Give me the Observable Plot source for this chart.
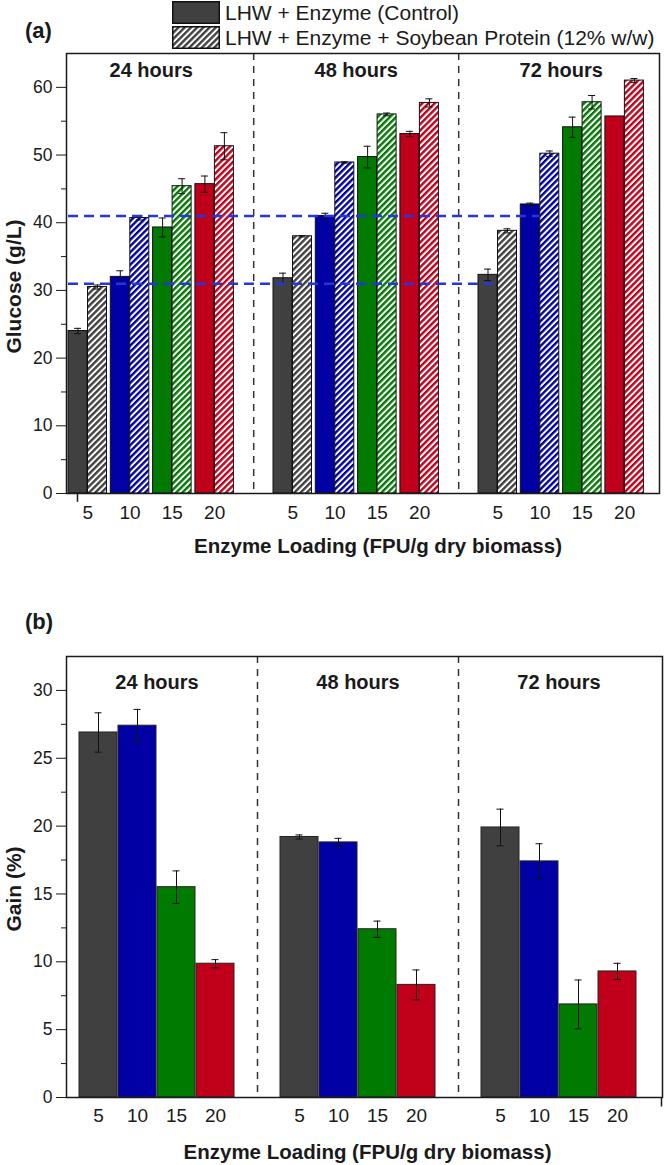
<!DOCTYPE html>
<html>
<head>
<meta charset="utf-8">
<script src="https://cdn.jsdelivr.net/npm/d3@7"></script>
<script src="https://cdn.jsdelivr.net/npm/@observablehq/plot@0.6"></script>
<style>
  html, body { margin: 0; padding: 0; background: white; }
  #wrap { position: relative; width: 664px; height: 1165px; overflow: hidden; font-family: "Liberation Sans", Arial, sans-serif; color: #1a1a1a; }
  .abs { position: absolute; }
  .panel-tag { font-weight: bold; font-size: 22px; line-height: 1; z-index: 5; }
  .leg-row { position: absolute; left: 172px; display: flex; align-items: center; height: 23px; z-index: 5; }
  .leg-row span { font-size: 21px; margin-left: 5px; white-space: nowrap; line-height: 1; }
  svg { display: block; }
</style>
</head>
<body>
<div id="wrap">
  <div id="pa" class="abs" style="left:0; top:51px;"></div>
  <div id="pb" class="abs" style="left:0; top:571px;"></div>
  <div class="abs panel-tag" style="left:25px; top:20px;">(a)</div>
  <div class="abs panel-tag" style="left:25px; top:611px;">(b)</div>
  <div id="legend"></div>
</div>
<script>
// ---------------- data ----------------
const times = ["24 hours", "48 hours", "72 hours"];
const loadings = [5, 10, 15, 20];
const seriesNames = ["LHW + Enzyme (Control)", "LHW + Enzyme + Soybean Protein (12% w/w)"];
const loadingColors = ["#404040", "#0000a4", "#007a00", "#c0001a"];

// Glucose (g/L): rows = times, columns = loadings
const controlGlucose    = [[24.0, 32.0, 39.3, 45.7], [31.8, 41.0, 49.7, 53.1], [32.3, 42.7, 54.1, 55.7]];
const controlGlucoseErr = [[0.4, 0.9, 1.4, 1.2],     [0.75, 0.4, 1.6, 0.4],    [0.85, 0.2, 1.5, 0]];
const soyGlucose        = [[30.5, 40.7, 45.4, 51.3], [38.0, 48.9, 56.0, 57.7], [38.8, 50.2, 57.8, 61.0]];
const soyGlucoseErr     = [[0.3, 0.3, 1.1, 2.0],     [0.1, 0.1, 0.2, 0.6],     [0.3, 0.4, 1.0, 0.3]];

// Gain (%)
const gain    = [[26.9, 27.4, 15.5, 9.86], [19.2, 18.8, 12.4, 8.3], [19.9, 17.4, 6.86, 9.29]];
const gainErr = [[1.45, 1.2, 1.2, 0.3],    [0.15, 0.3, 0.6, 1.1],   [1.35, 1.3, 1.8, 0.6]];

// Blue dashed reference levels (g/L) and the loading index where each ends in the last group
const refLevels = [41.0, 31.0];
const refEndLoading = [1, 0];

const glucoseTicks = [0, 10, 20, 30, 40, 50, 60];
const gainTicks = [0, 5, 10, 15, 20, 25, 30];
const xTitle = "Enzyme Loading (FPU/g dry biomass)";
const yTitleA = "Glucose (g/L)";
const yTitleB = "Gain (%)";

// ---------------- layout (in x-scale units) ----------------
const font = "'Liberation Sans', Arial, sans-serif";
const LA = {start: 2, group: 205, pair: 42.3, off: 19.5, bw: 19};
const LB = {start: 13, group: 201, step: 39, bw: 38};
const centered = {textAnchor: "middle", lineAnchor: "middle"};

// ---------------- panel (a) ----------------
const rowsA = [];
times.forEach((t, g) => loadings.forEach((l, i) => {
  [[controlGlucose, controlGlucoseErr], [soyGlucose, soyGlucoseErr]].forEach(([v, e], s) => {
    const x1 = LA.start + g * LA.group + i * LA.pair + s * LA.off;
    rowsA.push({time: t, loading: l, g, i, s, value: v[g][i], err: e[g][i], x1, x2: x1 + LA.bw, cx: x1 + LA.bw / 2,
      fill: s ? `url(#hatch-${i})` : loadingColors[i]});
  });
}));
const errA = rowsA.filter(d => d.err > 0);
const capsA = errA.flatMap(d => [{cx: d.cx, y: d.value + d.err}, {cx: d.cx, y: d.value - d.err}]);
const groupCenterA = g => LA.start + g * LA.group + (3 * LA.pair + LA.off + LA.bw) / 2;
const sepA = [0, 1].map(g => (LA.start + g * LA.group + 3 * LA.pair + LA.off + LA.bw + LA.start + (g + 1) * LA.group) / 2);
const xLabA = times.flatMap((t, g) => loadings.map((l, i) => ({l, x: LA.start + g * LA.group + i * LA.pair + (LA.off + LA.bw) / 2})));
const refRows = refLevels.map((y, k) => ({y, x1: LA.start, x2: LA.start + 2 * LA.group + refEndLoading[k] * LA.pair + LA.bw}));

const plotA = Plot.plot({
  width: 664, height: 520,
  marginTop: 2, marginBottom: 78, marginLeft: 66, marginRight: 5,
  x: {domain: [0, 593], axis: null},
  y: {domain: [0, 65], axis: null},
  color: {type: "identity"},
  style: {fontFamily: font, background: "transparent", overflow: "visible", color: "#1a1a1a"},
  marks: [
    Plot.rectY(rowsA, {x1: "x1", x2: "x2", y1: 0, y2: "value", fill: "fill", stroke: "#111", strokeWidth: 1}),
    Plot.ruleX(errA, {x: "cx", y1: d => d.value - d.err, y2: d => d.value + d.err, stroke: "#111", strokeWidth: 1}),
    Plot.ruleY(capsA, {y: "y", x1: d => d.cx - 3.5, x2: d => d.cx + 3.5, stroke: "#111", strokeWidth: 1}),
    Plot.ruleX(sepA, {x: d => d, stroke: "#333", strokeWidth: 1.5, strokeDasharray: "7,6"}),
    Plot.ruleY(refRows, {y: "y", x1: "x1", x2: "x2", stroke: "#2436dc", strokeWidth: 2.5, strokeDasharray: "10,6"}),
    Plot.frame({stroke: "#1a1a1a", strokeWidth: 1.5}),
    Plot.axisY({ticks: glucoseTicks, tickSize: 10, tickPadding: 4, fontSize: 17.5, label: null}),
    Plot.axisY({ticks: d3.range(5, 65, 10), tickSize: 5, tickFormat: () => "", label: null}),
    Plot.ruleX([LA.start + 9], {y1: 0, y2: -1.3, stroke: "#1a1a1a", strokeWidth: 1.5}),
    Plot.text(times, {x: (d, g) => groupCenterA(g), frameAnchor: "top", dy: 17, text: d => d, fontWeight: "bold", fontSize: 20, ...centered}),
    Plot.text(xLabA, {x: "x", frameAnchor: "bottom", dy: 19, text: "l", fontSize: 19, ...centered}),
    Plot.text([xTitle], {frameAnchor: "bottom", dy: 53, dx: 15, text: d => d, fontWeight: "bold", fontSize: 20.5, ...centered}),
    Plot.text([yTitleA], {frameAnchor: "left", dx: -52, dy: 13, rotate: -90, text: d => d, fontWeight: "bold", fontSize: 21, ...centered})
  ]
});

function hatchDefs(prefix) {
  return loadingColors.map((c, i) =>
    `<pattern id="${prefix}-${i}" patternUnits="userSpaceOnUse" width="4.4" height="4.4" patternTransform="rotate(45)">` +
    `<rect width="4.4" height="4.4" fill="white"/><rect width="2.4" height="4.4" fill="${c}"/></pattern>`).join("");
}
const defsA = document.createElementNS("http://www.w3.org/2000/svg", "defs");
defsA.innerHTML = hatchDefs("hatch");
plotA.insertBefore(defsA, plotA.firstChild);
document.getElementById("pa").appendChild(plotA);

// ---------------- panel (b) ----------------
const rowsB = [];
times.forEach((t, g) => loadings.forEach((l, i) => {
  const x1 = LB.start + g * LB.group + i * LB.step;
  rowsB.push({time: t, loading: l, i, value: gain[g][i], err: gainErr[g][i], x1, x2: x1 + LB.bw, cx: x1 + LB.bw / 2, fill: loadingColors[i]});
}));
const capsB = rowsB.flatMap(d => [{cx: d.cx, y: d.value + d.err}, {cx: d.cx, y: d.value - d.err}]);
const groupCenterB = g => LB.start + g * LB.group + (3 * LB.step + LB.bw) / 2;
const sepB = [0, 1].map(g => (LB.start + g * LB.group + 3 * LB.step + LB.bw + LB.start + (g + 1) * LB.group) / 2);

const plotB = Plot.plot({
  width: 664, height: 594,
  marginTop: 85, marginBottom: 68, marginLeft: 66, marginRight: 2,
  x: {domain: [0, 596], axis: null},
  y: {domain: [0, 32.5], axis: null},
  color: {type: "identity"},
  style: {fontFamily: font, background: "transparent", overflow: "visible", color: "#1a1a1a"},
  marks: [
    Plot.rectY(rowsB, {x1: "x1", x2: "x2", y1: 0, y2: "value", fill: "fill", stroke: "#222", strokeWidth: 1}),
    Plot.ruleX(rowsB, {x: "cx", y1: d => d.value - d.err, y2: d => d.value + d.err, stroke: "#111", strokeWidth: 1}),
    Plot.ruleY(capsB, {y: "y", x1: d => d.cx - 3.5, x2: d => d.cx + 3.5, stroke: "#111", strokeWidth: 1}),
    Plot.ruleX(sepB, {x: d => d, stroke: "#333", strokeWidth: 1.5, strokeDasharray: "7,6"}),
    Plot.frame({stroke: "#1a1a1a", strokeWidth: 1.5}),
    Plot.axisY({ticks: gainTicks, tickSize: 10, tickPadding: 4, fontSize: 17.5, label: null}),
    Plot.axisY({ticks: d3.range(2.5, 32.5, 5), tickSize: 5, tickFormat: () => "", label: null}),
    Plot.ruleX([595], {y1: 0, y2: -0.7, stroke: "#1a1a1a", strokeWidth: 1.5}),
    Plot.text(times, {x: (d, g) => groupCenterB(g), frameAnchor: "top", dy: 26, text: d => d, fontWeight: "bold", fontSize: 20, ...centered}),
    Plot.text(rowsB, {x: "cx", frameAnchor: "bottom", dy: 18, text: "loading", fontSize: 19, ...centered}),
    Plot.text([xTitle], {frameAnchor: "bottom", dy: 55, dx: 3, text: d => d, fontWeight: "bold", fontSize: 20.5, ...centered}),
    Plot.text([yTitleB], {frameAnchor: "left", dx: -52, dy: 12, rotate: -90, text: d => d, fontWeight: "bold", fontSize: 21, ...centered})
  ]
});
document.getElementById("pb").appendChild(plotB);

// ---------------- legend ----------------
const legend = document.getElementById("legend");
seriesNames.forEach((name, s) => {
  const row = document.createElement("div");
  row.className = "leg-row";
  row.style.top = (s === 0 ? 1 : 26) + "px";
  const fill = s ? "url(#leg-hatch-0)" : loadingColors[0];
  row.innerHTML =
    `<svg width="48" height="23"><defs>${s ? hatchDefs("leg-hatch") : ""}</defs>` +
    `<rect x="0.75" y="0.75" width="46.5" height="21.5" fill="${fill}" stroke="#111" stroke-width="1.5"/></svg>` +
    `<span>${name}</span>`;
  legend.appendChild(row);
});
</script>
</body>
</html>
